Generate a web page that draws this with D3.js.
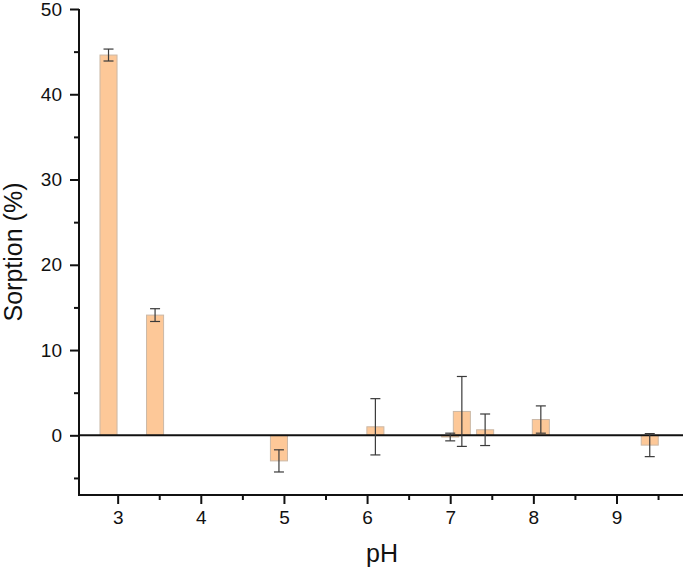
<!DOCTYPE html>
<html>
<head>
<meta charset="utf-8">
<script src="https://cdn.jsdelivr.net/npm/d3@7"></script>
<style>
  html, body { margin: 0; padding: 0; background: #fff; }
  svg { display: block; font-family: "Liberation Sans", Arial, sans-serif; }
</style>
</head>
<body>
<svg id="chart" width="685" height="573"></svg>
<script>
// Data
const phValues = [2.89, 3.45, 4.94, 6.10, 7.00, 7.14, 7.42, 8.09, 9.40];
const sorption = [44.6, 14.1, -3.0, 1.0, -0.2, 2.8, 0.65, 1.85, -1.15];
const sorptionErr = [0.7, 0.75, 1.3, 3.3, 0.45, 4.1, 1.85, 1.6, 1.35];
const xTicks = [3, 4, 5, 6, 7, 8, 9];
const yTicks = [0, 10, 20, 30, 40, 50];

(function () {
const svg = d3.select("#chart");
const mLeft = 79, mRight = 683, mTop = 9, mBottom = 495;

const x = d3.scaleLinear().domain([2.535, 9.8]).range([mLeft, mRight]);
const y = d3.scaleLinear().domain([-7, 50]).range([mBottom, mTop]);
const barW = 0.205; // in pH units

const data = phValues.map((p, i) => ({ p, v: sorption[i], e: sorptionErr[i] }));

// Bars
svg.append("g").selectAll("rect").data(data).join("rect")
  .attr("x", d => x(d.p - barW / 2))
  .attr("width", d => x(d.p + barW / 2) - x(d.p - barW / 2))
  .attr("y", d => y(Math.max(0, d.v)))
  .attr("height", d => Math.abs(y(d.v) - y(0)))
  .attr("fill", "#fdc898")
  .attr("stroke", "#cbb8a6")
  .attr("stroke-width", 1);

// Zero line
svg.append("line")
  .attr("x1", mLeft).attr("x2", mRight)
  .attr("y1", y(0)).attr("y2", y(0))
  .attr("stroke", "#111").attr("stroke-width", 2);

// Error bars
const eg = svg.append("g").attr("stroke", "#3a3a3a").attr("stroke-width", 1.2);
data.forEach(d => {
  const cx = x(d.p);
  eg.append("line").attr("x1", cx).attr("x2", cx).attr("y1", y(d.v + d.e)).attr("y2", y(d.v - d.e));
  eg.append("line").attr("x1", cx - 5).attr("x2", cx + 5).attr("y1", y(d.v + d.e)).attr("y2", y(d.v + d.e));
  eg.append("line").attr("x1", cx - 5).attr("x2", cx + 5).attr("y1", y(d.v - d.e)).attr("y2", y(d.v - d.e));
});

// Y axis
const yAxis = d3.axisLeft(y).tickValues(yTicks).tickSize(9).tickPadding(8).tickFormat(d3.format("d"));
const gy = svg.append("g").attr("transform", `translate(${mLeft},0)`).call(yAxis);
gy.select(".domain").attr("stroke", "#111").attr("stroke-width", 2).attr("d", `M0,${mTop}V${mBottom}`);
gy.selectAll(".tick line").attr("stroke", "#111").attr("stroke-width", 2);
gy.selectAll(".tick text").attr("font-size", 19).attr("fill", "#111").attr("font-family", "Liberation Sans, Arial, sans-serif");
const yMinor = d3.axisLeft(y).tickValues([-5, 5, 15, 25, 35, 45]).tickSize(5).tickFormat("");
const gym = svg.append("g").attr("transform", `translate(${mLeft},0)`).call(yMinor);
gym.select(".domain").remove();
gym.selectAll(".tick line").attr("stroke", "#111").attr("stroke-width", 2);

// X axis
const xAxis = d3.axisBottom(x).tickValues(xTicks).tickSize(9).tickPadding(7).tickFormat(d3.format("d"));
const gx = svg.append("g").attr("transform", `translate(0,${mBottom})`).call(xAxis);
gx.select(".domain").attr("stroke", "#111").attr("stroke-width", 2).attr("d", `M${mLeft - 1},0H${mRight}`);
gx.selectAll(".tick line").attr("stroke", "#111").attr("stroke-width", 2);
gx.selectAll(".tick text").attr("font-size", 19).attr("fill", "#111").attr("font-family", "Liberation Sans, Arial, sans-serif");
const xMinor = d3.axisBottom(x).tickValues([3.5, 4.5, 5.5, 6.5, 7.5, 8.5, 9.5]).tickSize(5).tickFormat("");
const gxm = svg.append("g").attr("transform", `translate(0,${mBottom})`).call(xMinor);
gxm.select(".domain").remove();
gxm.selectAll(".tick line").attr("stroke", "#111").attr("stroke-width", 2);

// Axis titles
svg.append("text")
  .attr("x", 382).attr("y", 562)
  .attr("text-anchor", "middle")
  .attr("font-size", 25).attr("fill", "#111")
  .text("pH");
svg.append("text")
  .attr("transform", `translate(22,252) rotate(-90)`)
  .attr("text-anchor", "middle")
  .attr("font-size", 25).attr("fill", "#111")
  .text("Sorption (%)");
})();
</script>
</body>
</html>
